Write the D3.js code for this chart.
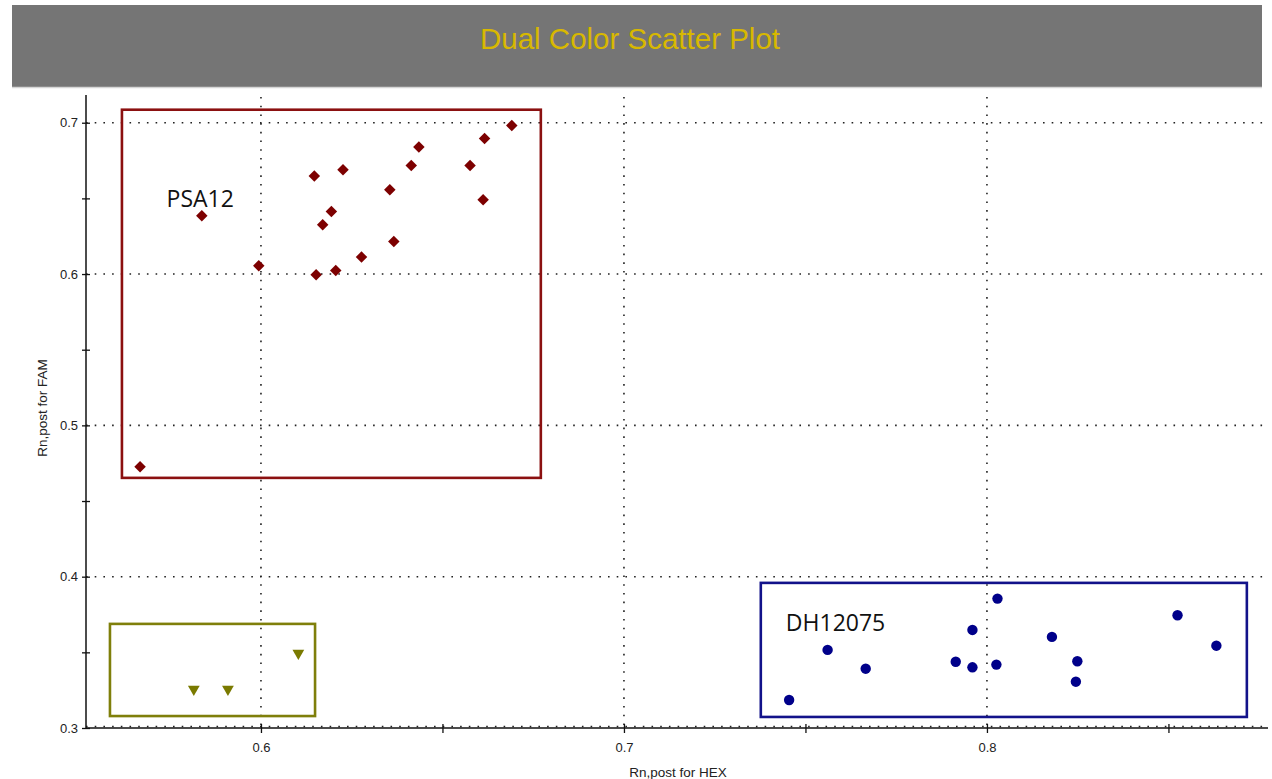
<!DOCTYPE html>
<html>
<head>
<meta charset="utf-8">
<script src="https://d3js.org/d3.v7.min.js"></script>
<style>
body { margin: 0; background: #ffffff; }
svg { display: block; font-family: "Liberation Sans", Arial, sans-serif; }
</style>
</head>
<body>
<svg id="canvas" width="1272" height="779"></svg>
<script>
// chart values
var chartTitle = "Dual Color Scatter Plot";
var xTitle = "Rn,post for HEX";
var yTitle = "Rn,post for FAM";

var xTicks = [0.6, 0.7, 0.8];
var xMinorTicks = [0.65, 0.75, 0.85];
var yTicks = [0.3, 0.4, 0.5, 0.6, 0.7];
var yMinorTicks = [0.35, 0.45, 0.55, 0.65];

// PSA12 group (FAM)
var famHex = [0.5667, 0.5837, 0.5994, 0.6147, 0.6152, 0.6170, 0.6194, 0.6206, 0.6226,
	0.6277, 0.6355, 0.6366, 0.6414, 0.6435, 0.6576, 0.6612, 0.6616, 0.6691];
var famFam = [0.4726, 0.6385, 0.6055, 0.6648, 0.5995, 0.6326, 0.6414, 0.6024, 0.6689,
	0.6112, 0.6557, 0.6215, 0.6718, 0.6839, 0.6718, 0.6491, 0.6896, 0.6982];

// DH12075 group (HEX)
var hexHex = [0.7455, 0.7561, 0.7666, 0.7914, 0.7960, 0.7960, 0.8026, 0.8029, 0.8179,
	0.8249, 0.8245, 0.8525, 0.8632];
var hexFam = [0.3185, 0.3516, 0.3392, 0.3438, 0.3648, 0.3401, 0.3419, 0.3855, 0.3602,
	0.3441, 0.3306, 0.3745, 0.3544];

// no template controls
var ntcHex = [0.5815, 0.5909, 0.6103];
var ntcFam = [0.3256, 0.3256, 0.3494];

// cluster boxes [x1, y1, x2, y2] in data units
var boxes = [
	{name: "PSA12", x1: 0.5617, y1: 0.4653, x2: 0.6771, y2: 0.7086, color: "#8b1010"},
	{name: "NTC", x1: 0.5584, y1: 0.3079, x2: 0.6149, y2: 0.3688, color: "#7f7f0a"},
	{name: "DH12075", x1: 0.7377, y1: 0.3073, x2: 0.8716, y2: 0.3959, color: "#12128a"}
];
var boxLabels = [
	{text: "PSA12", x: 0.5740, y: 0.6445},
	{text: "DH12075", x: 0.7446, y: 0.3641}
];

function draw(){
	var svg = d3.select("#canvas");

	// title band
	svg.append("rect")
		.attr("x", 12).attr("y", 5)
		.attr("width", 1250).attr("height", 82)
		.attr("fill", "#757575");
	svg.append("line")
		.attr("x1", 12).attr("x2", 1262)
		.attr("y1", 87.5).attr("y2", 87.5)
		.attr("stroke", "#d6d6d6").attr("stroke-width", 1.5);
	svg.append("text")
		.attr("x", 630).attr("y", 49)
		.attr("text-anchor", "middle")
		.attr("font-size", 29.5)
		.attr("fill", "#d8b800")
		.text(chartTitle);

	var x = d3.scaleLinear().domain([0.5518, 0.8766]).range([86, 1265]);
	var y = d3.scaleLinear().domain([0.3, 0.717]).range([728, 97]);

	var grid = svg.append("g").attr("class", "grid");
	grid.selectAll("line.gx")
		.data(xTicks)
		.enter()
		.append("line")
			.attr("x1", function(d){ return x(d); })
			.attr("x2", function(d){ return x(d); })
			.attr("y1", 97).attr("y2", 728)
			.attr("stroke", "#222").attr("stroke-width", 1.6)
			.attr("stroke-dasharray", "1.6,7.1");
	grid.selectAll("line.gy")
		.data(yTicks)
		.enter()
		.append("line")
			.attr("x1", 86).attr("x2", 1268)
			.attr("y1", function(d){ return y(d) - (d == 0.3 ? 1.5 : 0); })
			.attr("y2", function(d){ return y(d) - (d == 0.3 ? 1.5 : 0); })
			.attr("stroke", "#222").attr("stroke-width", 1.6)
			.attr("stroke-dasharray", "1.6,7.1");

	// axes
	var xAxis = d3.axisBottom(x)
		.tickValues(xTicks.concat(xMinorTicks))
		.tickSize(5)
		.tickFormat(function(d){ return xTicks.indexOf(d) >= 0 ? d3.format(".1f")(d) : ""; });
	var gx = svg.append("g")
		.attr("transform", "translate(0,728)")
		.call(xAxis);
	gx.select(".domain").attr("d", "M86,0H1268").attr("stroke", "#111").attr("stroke-width", 1.5);
	gx.selectAll(".tick line").attr("y1", -4).attr("y2", 5).attr("stroke", "#111").attr("stroke-width", 1.3);
	gx.selectAll(".tick text")
		.attr("y", 24).attr("dy", 0)
		.attr("font-size", 13).attr("fill", "#222")
		.style("font-family", "Liberation Sans, Arial, sans-serif");

	var yAxis = d3.axisLeft(y)
		.tickValues(yTicks.concat(yMinorTicks))
		.tickSize(4)
		.tickFormat(function(d){ return yTicks.indexOf(d) >= 0 ? d3.format(".1f")(d) : ""; });
	var gy = svg.append("g")
		.attr("transform", "translate(86,0)")
		.call(yAxis);
	gy.select(".domain").attr("d", "M0,95V729").attr("stroke", "#111").attr("stroke-width", 1.5);
	gy.selectAll(".tick line").attr("x1", -4).attr("x2", 4).attr("stroke", "#111").attr("stroke-width", 1.3);
	gy.selectAll(".tick text")
		.attr("x", -8)
		.attr("font-size", 13).attr("fill", "#222")
		.style("font-family", "Liberation Sans, Arial, sans-serif");

	svg.append("text")
		.attr("x", 678).attr("y", 777)
		.attr("text-anchor", "middle")
		.attr("font-size", 13.5).attr("fill", "#222")
		.text(xTitle);
	svg.append("text")
		.attr("transform", "translate(47,408) rotate(-90)")
		.attr("text-anchor", "middle")
		.attr("font-size", 13.5).attr("fill", "#222")
		.text(yTitle);

	// cluster boxes
	svg.selectAll("rect.box")
		.data(boxes)
		.enter()
		.append("rect")
			.attr("class", "box")
			.attr("x", function(d){ return x(d.x1); })
			.attr("y", function(d){ return y(d.y2); })
			.attr("width", function(d){ return x(d.x2) - x(d.x1); })
			.attr("height", function(d){ return y(d.y1) - y(d.y2); })
			.attr("fill", "none")
			.attr("stroke", function(d){ return d.color; })
			.attr("stroke-width", 2.6);

	svg.selectAll("text.boxlabel")
		.data(boxLabels)
		.enter()
		.append("text")
			.attr("class", "boxlabel")
			.attr("x", function(d){ return x(d.x); })
			.attr("y", function(d){ return y(d.y); })
			.attr("font-size", 23)
			.attr("fill", "#111")
			.style("font-family", "'Open Sans', 'Noto Sans', sans-serif")
			.text(function(d){ return d.text; });

	// points
	var diamond = d3.symbol().type(d3.symbolSquare).size(66);
	svg.selectAll("path.fam")
		.data(d3.range(famHex.length))
		.enter()
		.append("path")
			.attr("class", "fam")
			.attr("d", diamond)
			.attr("transform", function(i){
				return "translate(" + x(famHex[i]) + "," + y(famFam[i]) + ") rotate(45)";
			})
			.attr("fill", "#7d0000");

	svg.selectAll("circle.hex")
		.data(d3.range(hexHex.length))
		.enter()
		.append("circle")
			.attr("class", "hex")
			.attr("cx", function(i){ return x(hexHex[i]); })
			.attr("cy", function(i){ return y(hexFam[i]); })
			.attr("r", 5.2)
			.attr("fill", "#00008a");

	var tri = d3.symbol().type(d3.symbolTriangle).size(60);
	svg.selectAll("path.ntc")
		.data(d3.range(ntcHex.length))
		.enter()
		.append("path")
			.attr("class", "ntc")
			.attr("d", tri)
			.attr("transform", function(i){
				return "translate(" + x(ntcHex[i]) + "," + y(ntcFam[i]) + ") rotate(180)";
			})
			.attr("fill", "#7a7a00");
}

draw();
</script>
</body>
</html>
